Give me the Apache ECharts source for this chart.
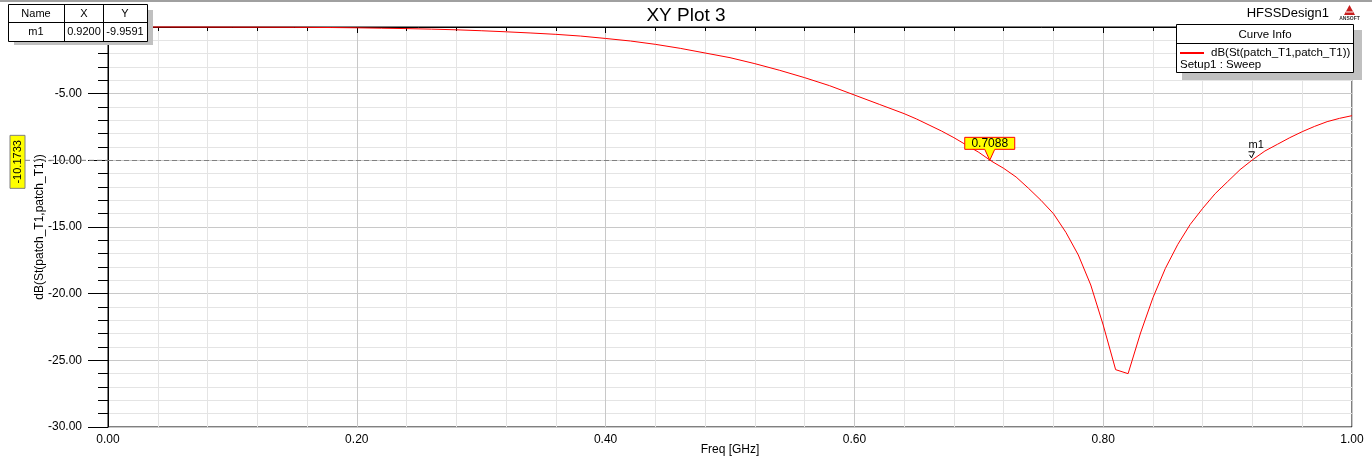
<!DOCTYPE html>
<html>
<head>
<meta charset="utf-8">
<script src="https://cdn.jsdelivr.net/npm/echarts@6/dist/echarts.min.js"></script>
<style>
html,body{margin:0;padding:0;background:#fff;}
#c{width:1372px;height:461px;}
</style>
</head>
<body>
<div id="c"></div>
<script>
const FONT = "'Liberation Sans', Arial, sans-serif";
const freq = [0.00,0.05,0.10,0.15,0.18,0.20,0.22,0.24,0.26,0.28,0.30,0.32,0.34,0.36,0.38,0.40,0.42,0.44,0.46,0.48,0.50,0.52,0.54,0.56,0.58,0.60,0.62,0.64,0.65,0.66,0.67,0.68,0.69,0.70,0.71,0.72,0.73,0.74,0.75,0.76,0.77,0.78,0.79,0.80,0.81,0.82,0.83,0.84,0.85,0.86,0.87,0.88,0.89,0.90,0.91,0.92,0.93,0.94,0.95,0.96,0.97,0.98,0.99,1.00];
const s11db = [0.00,0.00,-0.01,-0.02,-0.04,-0.06,-0.09,-0.12,-0.16,-0.21,-0.28,-0.36,-0.45,-0.55,-0.68,-0.86,-1.05,-1.30,-1.60,-1.95,-2.30,-2.75,-3.25,-3.80,-4.40,-5.10,-5.80,-6.50,-6.90,-7.35,-7.80,-8.30,-8.85,-9.40,-10.05,-10.60,-11.25,-12.10,-13.00,-14.00,-15.40,-17.10,-19.35,-22.35,-25.70,-26.00,-22.95,-20.30,-18.10,-16.30,-14.80,-13.60,-12.50,-11.60,-10.70,-9.96,-9.30,-8.80,-8.30,-7.85,-7.45,-7.10,-6.85,-6.65];
const xTicks = [0, 0.2, 0.4, 0.6, 0.8, 1.0];
const yTicks = [-30, -25, -20, -15, -10, -5, 0];
const markerX = [0.7088, -10.0];
const m1 = [0.92, -9.9591];
const refLineY = -10.0;
const refLabel = '-10.1733';
const seriesName = 'dB(St(patch_T1,patch_T1))';

const chart = echarts.init(document.getElementById('c'), null, {renderer: 'canvas'});
const option = {
  animation: false,
  backgroundColor: '#fff',
  textStyle: {fontFamily: FONT},
  title: {
    text: 'XY Plot 3', left: 'center', top: 1,
    textStyle: {fontFamily: FONT, fontSize: 19, fontWeight: 'normal', color: '#000'}
  },
  grid: {left: 108, right: 20, top: 27, bottom: 34, outerBoundsMode: 'none', containLabel: false,
    show: true, borderColor: '#000', borderWidth: 1, backgroundColor: 'transparent'},
  xAxis: {
    type: 'value', min: xTicks[0], max: xTicks[xTicks.length-1], interval: 0.2,
    name: 'Freq [GHz]', nameLocation: 'middle', nameGap: 17, nameMoveOverlap: false,
    nameTextStyle: {fontFamily: FONT, fontSize: 12, color: '#000'},
    axisLine: {show: true, lineStyle: {color: '#000', width: 1}},
    axisTick: {show: true, length: 6, lineStyle: {color: '#000'}},
    minorTick: {show: true, splitNumber: 5, length: 4, lineStyle: {color: '#000'}},
    axisLabel: {margin: 7, fontFamily: FONT, fontSize: 12, color: '#000', formatter: v => v.toFixed(2)},
    splitLine: {show: true, lineStyle: {color: '#c8c8c8', width: 1}},
    minorSplitLine: {show: true, lineStyle: {color: '#e4e4e4', width: 1}}
  },
  yAxis: {
    type: 'value', min: yTicks[0], max: yTicks[yTicks.length-1], interval: 5,
    name: seriesName, nameLocation: 'middle', nameGap: 62, nameRotate: 90, nameMoveOverlap: false,
    nameTextStyle: {fontFamily: FONT, fontSize: 12, color: '#000'},
    axisLine: {show: true, onZero: false, lineStyle: {color: '#000', width: 1}},
    axisTick: {show: true, length: 20, lineStyle: {color: '#000'}},
    minorTick: {show: true, splitNumber: 5, length: 10, lineStyle: {color: '#000'}},
    axisLabel: {margin: 26, fontFamily: FONT, fontSize: 12, color: '#000', formatter: v => v === 0 ? '' : v.toFixed(2)},
    splitLine: {show: true, lineStyle: {color: '#c8c8c8', width: 1}},
    minorSplitLine: {show: true, lineStyle: {color: '#e4e4e4', width: 1}}
  },
  series: [{
    name: seriesName, type: 'line', showSymbol: false, symbol: 'none',
    data: freq.map((f, i) => [f, s11db[i]]),
    lineStyle: {color: '#ff0000', width: 1}, z: 5, clip: false,
    markLine: {
      silent: true, symbol: 'none', animation: false,
      lineStyle: {color: '#808080', type: [5, 3], width: 1},
      label: {show: false},
      data: [{yAxis: refLineY}]
    }
  }]
};
chart.setOption(option);

const P = (pt) => chart.convertToPixel({gridIndex: 0}, pt);
const pm = P(markerX);
const p1 = P(m1);
const pRef = P([0, refLineY]);
const pLeft = P([0, 0]);

const g = [];
// top window border
g.push({type: 'rect', shape: {x: 0, y: 0, width: 1372, height: 2}, style: {fill: '#a0a0a0'}, z: 100});
// extended ref line to the left of the axis
g.push({type: 'line', shape: {x1: 25, y1: pRef[1], x2: pLeft[0], y2: pRef[1]}, style: {stroke: '#808080', lineDash: [5, 3], lineWidth: 1}, z: 100});
// yellow Y value label
g.push({type: 'rect', shape: {x: 10, y: pRef[1] - 25, width: 15, height: 53}, style: {fill: '#ffff00', stroke: '#808080', lineWidth: 1}, z: 101});
g.push({type: 'text', x: 17.5, y: pRef[1] + 1.5, rotation: Math.PI / 2,
  style: {text: refLabel, font: '11px ' + FONT, fill: '#000', align: 'center', verticalAlign: 'middle'}, z: 102});
// marker 0.7088 flag
const bx = pm[0] - 25, by = pm[1] - 23;
g.push({type: 'polygon', shape: {points: [[bx, by], [bx + 50, by], [bx + 50, by + 12], [pm[0] + 5, by + 12], [pm[0], pm[1]], [pm[0] - 5, by + 12], [bx, by + 12]]},
  style: {fill: '#ffff00', stroke: '#ff0000', lineWidth: 1}, z: 101});
g.push({type: 'text', x: pm[0], y: by + 6.5, style: {text: '0.7088', font: '12px ' + FONT, fill: '#000', align: 'center', verticalAlign: 'middle'}, z: 102});
// marker m1
g.push({type: 'text', x: p1[0] - 4, y: p1[1] - 15, style: {text: 'm1', font: '11px ' + FONT, fill: '#000', align: 'left', verticalAlign: 'middle'}, z: 102});
g.push({type: 'polyline', shape: {points: [[p1[0] - 4, p1[1] - 8], [p1[0] + 2, p1[1] - 8], [p1[0] - 1, p1[1] - 2], [p1[0] - 3, p1[1] - 5]]}, style: {stroke: '#000', fill: null, lineWidth: 1}, z: 102});
// marker table
g.push({type: 'rect', shape: {x: 14, y: 10, width: 139, height: 35}, style: {fill: '#c0c0c0'}, z: 110});
g.push({type: 'rect', shape: {x: 8.5, y: 4.5, width: 139, height: 37}, style: {fill: '#fff', stroke: '#000', lineWidth: 1}, z: 111});
g.push({type: 'line', shape: {x1: 8.5, y1: 22.5, x2: 147.5, y2: 22.5}, style: {stroke: '#000', lineWidth: 1}, z: 112});
g.push({type: 'line', shape: {x1: 64.5, y1: 4.5, x2: 64.5, y2: 41.5}, style: {stroke: '#000', lineWidth: 1}, z: 112});
g.push({type: 'line', shape: {x1: 103.5, y1: 4.5, x2: 103.5, y2: 41.5}, style: {stroke: '#000', lineWidth: 1}, z: 112});
const cells = [['Name', 36, 14], ['X', 84, 14], ['Y', 125, 14], ['m1', 36, 32], [m1[0].toFixed(4), 84, 32], [m1[1].toFixed(4), 125, 32]];
cells.forEach(c => g.push({type: 'text', x: c[1], y: c[2], style: {text: c[0], font: '11px ' + FONT, fill: '#000', align: 'center', verticalAlign: 'middle'}, z: 113}));
// legend box
g.push({type: 'rect', shape: {x: 1182, y: 30, width: 180, height: 50}, style: {fill: '#c0c0c0'}, z: 110});
g.push({type: 'rect', shape: {x: 1176.5, y: 24.5, width: 177, height: 48}, style: {fill: '#fff', stroke: '#000', lineWidth: 1}, z: 111});
g.push({type: 'line', shape: {x1: 1176.5, y1: 43.5, x2: 1353.5, y2: 43.5}, style: {stroke: '#000', lineWidth: 1}, z: 112});
g.push({type: 'text', x: 1265, y: 34.5, style: {text: 'Curve Info', font: '11.5px ' + FONT, fill: '#000', align: 'center', verticalAlign: 'middle'}, z: 113});
g.push({type: 'line', shape: {x1: 1180, y1: 53, x2: 1204, y2: 53}, style: {stroke: '#ff0000', lineWidth: 2}, z: 113});
g.push({type: 'text', x: 1211, y: 53, style: {text: seriesName, font: '11.5px ' + FONT, fill: '#000', align: 'left', verticalAlign: 'middle'}, z: 113});
g.push({type: 'text', x: 1180, y: 65, style: {text: 'Setup1 : Sweep', font: '11.5px ' + FONT, fill: '#000', align: 'left', verticalAlign: 'middle'}, z: 113});
// design name + logo
g.push({type: 'text', x: 1329, y: 13, style: {text: 'HFSSDesign1', font: '13px ' + FONT, fill: '#000', align: 'right', verticalAlign: 'middle'}, z: 113});
g.push({type: 'polygon', shape: {points: [[1349.5, 5], [1344, 15], [1355, 15]]}, style: {fill: '#c81e1e'}, z: 113});
g.push({type: 'line', shape: {x1: 1346, y1: 12, x2: 1353, y2: 12}, style: {stroke: '#fff', lineWidth: 1}, z: 114});
g.push({type: 'text', x: 1349.5, y: 19, style: {text: 'ANSOFT', font: 'bold 5px ' + FONT, fill: '#333', align: 'center', verticalAlign: 'middle'}, z: 113});

chart.setOption({graphic: g});
</script>
</body>
</html>
